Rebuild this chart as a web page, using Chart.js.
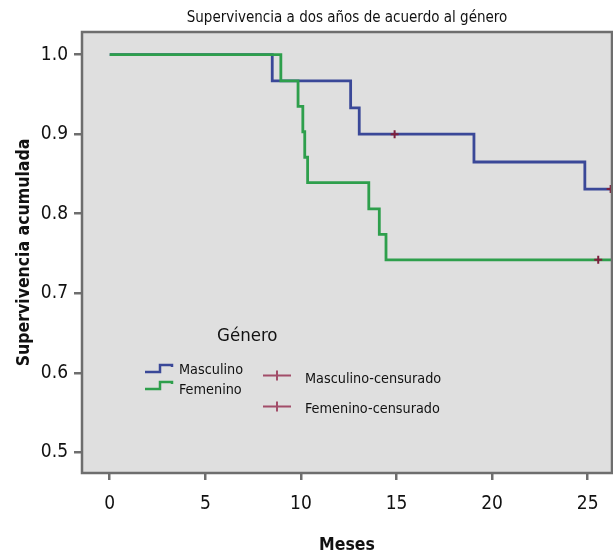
<!DOCTYPE html>
<html>
<head>
<meta charset="utf-8">
<script src="https://cdn.jsdelivr.net/npm/chart.js@4/dist/chart.umd.min.js"></script>
<style>
  html, body { margin: 0; padding: 0; background: #fff; }
  #wrap { width: 613px; height: 557px; }
</style>
</head>
<body>
<div id="wrap"><canvas id="km" width="613" height="557"></canvas></div>
<script>
// Kaplan-Meier curves (months, cumulative survival)
const mascTimes = [0, 8.5, 12.6, 13.05, 19.05, 24.85, 26.4];
const mascSurv = [1.0, 0.967, 0.933, 0.900, 0.865, 0.831, 0.831];
const femTimes = [0, 8.95, 9.85, 10.1, 10.2, 10.35, 13.55, 14.1, 14.45, 26.4];
const femSurv = [1.0, 0.967, 0.935, 0.903, 0.871, 0.839, 0.806, 0.774, 0.742, 0.742];
// censored cases
const mascCensTimes = [14.9, 26.2];
const mascCensSurv = [0.900, 0.831];
const femCensTimes = [25.55];
const femCensSurv = [0.742];

const xTicks = [0, 5, 10, 15, 20, 25];
const yTicks = [0.5, 0.6, 0.7, 0.8, 0.9, 1.0];

const FONT = "'Liberation Sans Narrow', 'DejaVu Sans Condensed', 'Noto Sans', sans-serif";
const BLUE = "#3a4898";
const GREEN = "#2e9f4c";
const CENS = "#7d1f3c";
const CENS_LEG = "#a24d69";

const toPoints = (xs, ys) => xs.map((x, i) => ({ x: x, y: ys[i] }));

// grey plot box with dark frame
const plotBox = {
  id: "plotBox",
  beforeDraw(chart) {
    const { ctx, chartArea: a } = chart;
    ctx.save();
    ctx.fillStyle = "#dfdfdf";
    ctx.fillRect(a.left, a.top, a.right - a.left, a.bottom - a.top);
    ctx.restore();
  },
  afterDraw(chart) {
    const { ctx, chartArea: a } = chart;
    ctx.save();
    ctx.strokeStyle = "#6e6e6e";
    ctx.lineWidth = 2.5;
    ctx.strokeRect(a.left, a.top, a.right - a.left, a.bottom - a.top);
    ctx.restore();
  }
};

// legend drawn inside the plot, like the SPSS output
const kmLegend = {
  id: "kmLegend",
  afterDatasetsDraw(chart) {
    const { ctx, chartArea: a } = chart;
    const L = a.left, T = a.top;
    ctx.save();
    ctx.fillStyle = "#111";
    ctx.textBaseline = "alphabetic";
    ctx.font = "18.5px " + FONT;
    ctx.fillText("Género", L + 135, T + 309);

    const step = (x, y, color) => {
      ctx.strokeStyle = color;
      ctx.lineWidth = 2.5;
      ctx.beginPath();
      ctx.moveTo(x, y + 7);
      ctx.lineTo(x + 15, y + 7);
      ctx.lineTo(x + 15, y);
      ctx.lineTo(x + 27, y);
      ctx.lineTo(x + 27, y + 2);
      ctx.stroke();
    };
    step(L + 63, T + 333, BLUE);
    step(L + 63, T + 350, GREEN);
    ctx.font = "14.3px " + FONT;
    ctx.fillText("Masculino", L + 97, T + 342);
    ctx.fillText("Femenino", L + 97, T + 362);

    const cross = (x, y) => {
      ctx.strokeStyle = CENS_LEG;
      ctx.lineWidth = 2;
      ctx.beginPath();
      ctx.moveTo(x - 14, y);
      ctx.lineTo(x + 14, y);
      ctx.moveTo(x, y - 5);
      ctx.lineTo(x, y + 5);
      ctx.stroke();
    };
    cross(L + 195, T + 343.5);
    cross(L + 195, T + 374.5);
    ctx.fillStyle = "#111";
    ctx.fillText("Masculino-censurado", L + 223, T + 351);
    ctx.fillText("Femenino-censurado", L + 223, T + 381);
    ctx.restore();
  }
};

new Chart(document.getElementById("km"), {
  type: "scatter",
  data: {
    datasets: [
      {
        label: "Masculino-censurado",
        data: toPoints(mascCensTimes, mascCensSurv),
        showLine: false,
        pointStyle: "cross",
        pointRadius: 4,
        borderColor: CENS,
        borderWidth: 2,
        order: 0
      },
      {
        label: "Femenino-censurado",
        data: toPoints(femCensTimes, femCensSurv),
        showLine: false,
        pointStyle: "cross",
        pointRadius: 4,
        borderColor: CENS,
        borderWidth: 2,
        order: 0
      },
      {
        label: "Femenino",
        data: toPoints(femTimes, femSurv),
        showLine: true,
        stepped: "before",
        borderColor: GREEN,
        borderWidth: 2.8,
        pointRadius: 0,
        order: 1
      },
      {
        label: "Masculino",
        data: toPoints(mascTimes, mascSurv),
        showLine: true,
        stepped: "before",
        borderColor: BLUE,
        borderWidth: 2.8,
        pointRadius: 0,
        order: 2
      }
    ]
  },
  options: {
    responsive: false,
    animation: false,
    layout: { autoPadding: false, padding: { left: 0, right: 1, top: 0, bottom: 0 } },
    plugins: {
      legend: { display: false },
      tooltip: { enabled: false },
      title: {
        display: true,
        fullSize: false,
        text: "Supervivencia a dos años de acuerdo al género",
        color: "#111",
        font: { family: FONT, size: 15, weight: "normal", lineHeight: 1.2 },
        padding: { top: 9, bottom: 5 }
      }
    },
    scales: {
      x: {
        type: "linear",
        min: -1.45,
        max: 26.27,
        afterBuildTicks: s => { s.ticks = xTicks.map(v => ({ value: v })); },
        afterFit: s => { s.height = 84; s.paddingLeft = 0; s.paddingRight = 0; },
        grid: { drawOnChartArea: false, tickLength: 7, color: "#6e6e6e", lineWidth: 2.5 },
        border: { display: false },
        ticks: {
          color: "#111",
          padding: 13,
          font: { family: FONT, size: 19 },
          callback: v => String(v)
        },
        title: {
          display: true,
          text: "Meses",
          color: "#111",
          font: { family: FONT, size: 17.5, weight: "bold", lineHeight: 1.2 },
          padding: { top: 0, bottom: 1.5 }
        }
      },
      y: {
        type: "linear",
        min: 0.4741,
        max: 1.0284,
        afterBuildTicks: s => { s.ticks = yTicks.map(v => ({ value: v })); },
        afterFit: s => { s.width = 82; s.paddingTop = 0; s.paddingBottom = 0; },
        grid: { drawOnChartArea: false, tickLength: 8, color: "#6e6e6e", lineWidth: 2.5 },
        border: { display: false },
        ticks: {
          color: "#111",
          padding: 6,
          font: { family: FONT, size: 19 },
          callback: v => v.toFixed(1)
        },
        title: {
          display: true,
          text: "Supervivencia acumulada",
          color: "#111",
          font: { family: FONT, size: 17.5, weight: "bold", lineHeight: 1.2 },
          padding: { top: 14, bottom: 0 }
        }
      }
    }
  },
  plugins: [plotBox, kmLegend]
});
</script>
</body>
</html>
